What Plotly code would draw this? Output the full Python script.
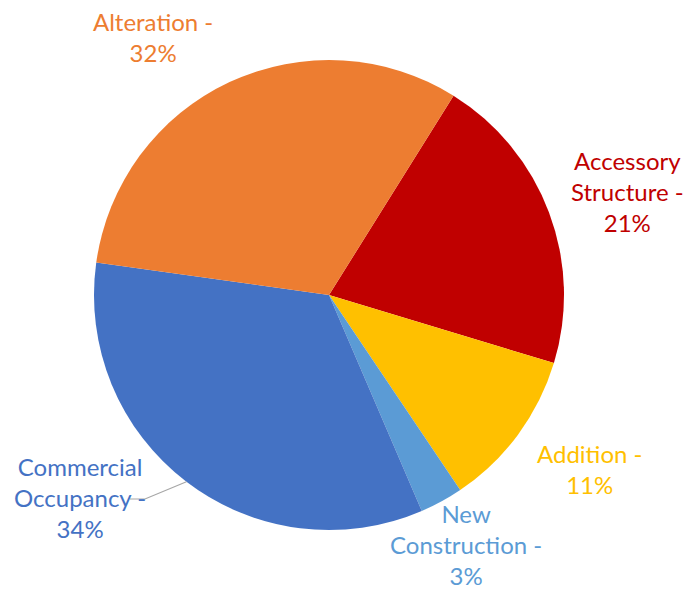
import math
import plotly.graph_objects as go

# Permit categories and their share of permits (percent)
categories = ["Accessory Structure", "Addition", "New Construction",
              "Commercial Occupancy", "Alteration"]
values = [21, 11, 3, 34, 32]
colors = ["#C00000", "#FFC000", "#5B9BD5", "#4472C4", "#ED7D31"]

# Label text as broken across lines, and label centre in pixels
label_lines = [["Accessory", "Structure -"], ["Addition -"],
               ["New", "Construction -"], ["Commercial", "Occupancy -"],
               ["Alteration -"]]
label_pos = [(627, 191), (589, 469), (466, 544), (80, 497), (153, 37)]

W, H = 696, 589
CX, CY, R = 329, 295, 235          # pie centre and radius in pixels
START = 32                          # first slice starts 32 deg clockwise of 12 o'clock
FONT = "Lato"
FS = 24

fig = go.Figure(go.Pie(
    labels=categories, values=values, sort=False, direction="clockwise",
    rotation=START, marker=dict(colors=colors, line=dict(width=0)),
    textinfo="none", hoverinfo="label+percent", showlegend=False,
    domain=dict(x=[(CX - R) / W, (CX + R) / W],
                y=[(H - CY - R) / H, (H - CY + R) / H]),
))

total = sum(values)
annotations = []
for cat, v, col, lines, (lx, ly) in zip(categories, values, colors, label_lines, label_pos):
    pct = f"{round(100 * v / total)}%"
    text = "<br>".join(lines + [pct])
    annotations.append(dict(
        x=lx / W, y=1 - ly / H, xref="paper", yref="paper",
        text=text, showarrow=False, xanchor="center", yanchor="middle",
        align="center", font=dict(family=FONT, size=FS, color=col),
    ))

# Leader line from the Commercial Occupancy label to its slice edge
cum = 0
for cat, v in zip(categories, values):
    if cat == "Commercial Occupancy":
        mid = math.radians(START + 360 * (cum + v / 2) / total)
        ex, ey = CX + R * math.sin(mid), CY - R * math.cos(mid)
    cum += v
x0, y0 = 130, 499
x1 = 145
fig.add_shape(type="path", xref="paper", yref="paper",
              path=f"M {x0 / W} {1 - y0 / H} L {x1 / W} {1 - y0 / H} L {ex / W} {1 - ey / H}",
              line=dict(color="#A6A6A6", width=1.2))

fig.update_layout(
    width=W, height=H, margin=dict(l=0, r=0, t=0, b=0),
    paper_bgcolor="white", plot_bgcolor="white",
    annotations=annotations,
)
fig.write_html("out.html")
